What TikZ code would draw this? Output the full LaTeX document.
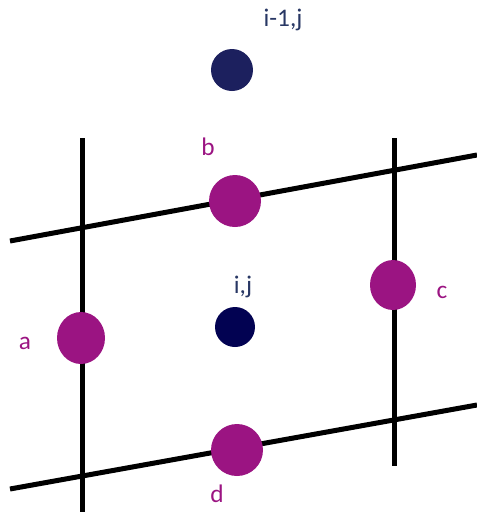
\documentclass[tikz,border=0pt]{standalone}
\usepackage{fontspec}
\setmainfont{Carlito}
\usetikzlibrary{shapes.geometric}
\definecolor{facepurple}{RGB}{155,20,130}
\definecolor{cellnavy}{RGB}{28,32,94}
\definecolor{centrenavy}{RGB}{2,2,82}
\definecolor{indexblue}{RGB}{40,55,100}

\tikzset{
    gridline/.style={line width=3.75pt, black},
    facept/.style={ellipse, fill=facepurple, inner sep=0pt},
    cellpt/.style={circle, inner sep=0pt},
    facelabel/.style={text=facepurple, font=\fontsize{19}{22}\selectfont},
    indexlabel/.style={text=indexblue, font=\fontsize{19}{22}\selectfont}
}

\begin{document}
\begin{tikzpicture}[x=0.75pt, y=-0.75pt]
    \useasboundingbox (0,0) rectangle (477,512);
    % grid lines
    \draw[gridline] (82,138) -- (82,512);
    \draw[gridline] (394,138) -- (394,466);
    \draw[gridline] (10,241) -- (477,155);
    \draw[gridline] (10,489) -- (477,405);

    % cell centres
    \node[cellpt, fill=cellnavy, minimum size=31.5pt] (upper) at (232,70) {};
    \node[cellpt, fill=centrenavy, minimum size=30pt] (centre) at (235,327) {};
    \node[indexlabel] (upperlbl) at (283,20) {i-1,j};
    \node[indexlabel] (centrelbl) at (243,287) {i,j};

    % face points
    \node[facept, minimum width=36pt, minimum height=39pt] (facea) at (81,338) {};
    \node[facept, minimum width=39pt, minimum height=39pt] (faceb) at (235,201) {};
    \node[facept, minimum width=34.5pt, minimum height=37.5pt] (facec) at (393,285) {};
    \node[facept, minimum width=39pt, minimum height=39pt] (faced) at (237,450) {};
    \node[facelabel] (lbla) at (25,343) {a};
    \node[facelabel] (lblb) at (208,147) {b};
    \node[facelabel] (lblc) at (442,292) {c};
    \node[facelabel] (lbld) at (217,494) {d};
\end{tikzpicture}
\end{document}
